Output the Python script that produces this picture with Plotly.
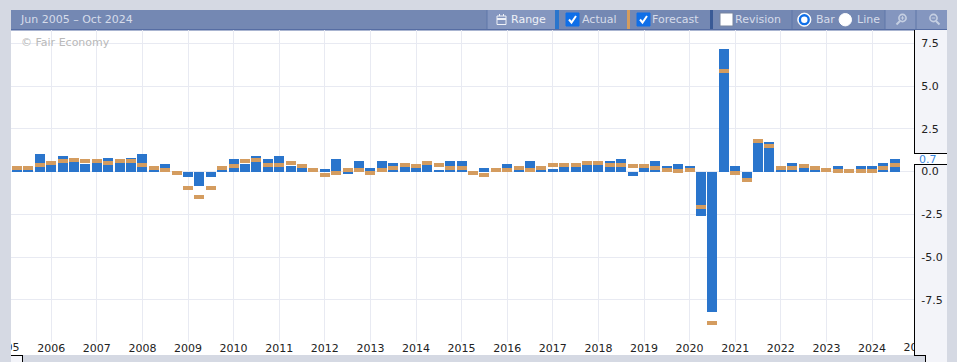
import plotly.graph_objects as go

W, H = 957, 362
quarters = [f"{m} {y}" for y in range(2005, 2025) for m in ("Mar", "Jun", "Sep", "Dec")][1:79]
actual = [0.05, 0.1, 1.05, 0.4, 0.93, 0.6, 0.47, 0.53, 0.8, 0.53, 0.8, 1.05, 0.1, 0.47, 0.0,
          -0.3, -0.82, -0.3, 0.1, 0.76, 0.47, 0.93, 0.76, 0.93, 0.35, 0.23, 0.0, 0.18, 0.76, -0.12,
          0.64, 0.23, 0.64, 0.53, 0.3, 0.23, 0.4, 0.05, 0.64, 0.64, -0.2, 0.23, 0.0, 0.47, 0.12,
          0.64, 0.05, 0.18, 0.3, 0.3, 0.4, 0.4, 0.64, 0.76, -0.23, 0.23, 0.64, 0.35, 0.47, 0.35,
          -2.6, -8.2, 7.2, 0.35, -0.35, 1.7, 1.75, 0.12, 0.53, 0.23, 0.12, 0.0, 0.35, 0.0, 0.35,
          0.35, 0.53, 0.76]
forecast = [0.23, 0.23, 0.4, 0.53, 0.64, 0.7, 0.64, 0.64, 0.53, 0.64, 0.64, 0.4, 0.23, 0.12, -0.06,
            -0.94, -1.46, -0.94, 0.23, 0.35, 0.64, 0.7, 0.4, 0.4, 0.53, 0.35, 0.12, -0.18, -0.06, 0.12,
            0.12, -0.06, 0.12, 0.23, 0.4, 0.35, 0.53, 0.4, 0.23, 0.23, -0.06, -0.18, 0.12, 0.12, 0.23,
            0.12, 0.23, 0.4, 0.4, 0.4, 0.53, 0.53, 0.4, 0.4, 0.35, 0.35, 0.23, 0.12, 0.06, 0.12,
            -2.05, -8.85, 5.9, -0.06, -0.47, 1.8, 1.5, 0.23, 0.23, 0.35, 0.23, 0.12, 0.06, 0.06, 0.06,
            0.06, 0.23, 0.4]
year_ticks = [f"Mar {y}" for y in range(2006, 2025)]
year_labels = [str(y) for y in range(2006, 2025)]
y_ticks = [7.5, 5.0, 2.5, 0.0, -2.5, -5.0, -7.5]
y_labels = ["7.5", "5.0", "2.5", "0.0", "-2.5", "-5.0", "-7.5"]
date_range = "Jun 2005 – Oct 2024"
latest = "0.7"

BLUE, ORANGE = "#2a75cc", "#d49c5f"
FONT = "DejaVu Sans"
forecast_thickness = 0.234


def px(x):
    return x / W


def py(y):
    return 1 - y / H


shapes, notes = [], []


def rect(x0, y0, x1, y1, fill, line=None, lw=1):
    shapes.append(dict(type="rect", xref="paper", yref="paper", x0=px(x0), x1=px(x1), y0=py(y0), y1=py(y1),
                       fillcolor=fill, line=dict(color=line or fill, width=lw if line else 0), layer="below"))


def seg(x0, y0, x1, y1, color="#000000", lw=1, layer="above"):
    shapes.append(dict(type="line", xref="paper", yref="paper", x0=px(x0), x1=px(x1), y0=py(y0), y1=py(y1),
                       line=dict(color=color, width=lw), layer=layer))


def circle(cx, cy, r, fill, line=None, lw=1):
    shapes.append(dict(type="circle", xref="paper", yref="paper", x0=px(cx - r), x1=px(cx + r), y0=py(cy - r),
                       y1=py(cy + r), fillcolor=fill, line=dict(color=line or fill, width=lw), layer="above"))


def text(x, y, s, color, size=11, anchor="left"):
    notes.append(dict(xref="paper", yref="paper", x=px(x), y=py(y), text=s, showarrow=False, xanchor=anchor,
                      yanchor="middle", xshift=0, font=dict(family=FONT, size=size, color=color),
                      borderpad=0, borderwidth=0, align="left"))


# header band and value-axis panel
HEAD, HEAD_L = "#7488b3", "#8496bf"
rect(11, 10, 947, 30, HEAD)
rect(11, 29, 947, 30.5, "#566da3")
rect(487, 10, 555, 29, HEAD_L)
rect(885, 10, 947, 29, HEAD_L)
rect(555, 10, 559, 29, BLUE)
rect(627, 10, 630, 29, ORANGE)
rect(710, 10, 713, 29, "#3a5a96")
for xs in (487, 792, 885, 916):
    seg(xs, 10, xs, 29, "#5f76a8")
rect(914, 30, 947, 362, "#f3f4f9")
rect(914, 355, 925, 362, "#d5d9e3")
rect(914, 153, 947, 164, "#ffffff")
rect(11, 355, 22, 362, "#f3f4f9")
seg(914.5, 30, 914.5, 153)
seg(914.5, 164, 914.5, 355.5)
seg(914, 153.5, 947, 153.5)
seg(914, 164.5, 947, 164.5)
seg(914, 355.5, 925.5, 355.5)
seg(925.5, 355, 925.5, 362)
seg(11, 355.5, 22.5, 355.5)
seg(22.5, 355, 22.5, 362)

# header controls
text(20, 20, date_range, "#d6dcea")
text(511, 20, "Range", "#eef1f7")
text(582, 20, "Actual", "#d6dcea")
text(652, 20, "Forecast", "#d6dcea")
text(735, 20, "Revision", "#d6dcea")
text(816, 20, "Bar", "#d6dcea")
text(857, 20, "Line", "#d6dcea")
for x0 in (566, 637):
    rect(x0, 13, x0 + 13, 26, "#0f6fe8", "#0f6fe8", 1)
    shapes.append(dict(type="path", xref="paper", yref="paper", layer="above",
                       path=f"M {px(x0 + 3)} {py(19.5)} L {px(x0 + 5.5)} {py(22.5)} L {px(x0 + 10)} {py(16)}",
                       line=dict(color="#ffffff", width=2)))
rect(720, 13, 733, 26, "#ffffff", "#76849f", 1)
circle(804.3, 19.7, 6.6, "#ffffff")
circle(804.3, 19.7, 4.4, "#ffffff", "#0f6fe8", 2.4)
circle(845.3, 19.7, 6.2, "#ffffff")
# calendar icon
rect(497, 16, 506, 24.5, HEAD_L, "#eef1f7", 1)
seg(497, 19, 506, 19, "#eef1f7", 2)
seg(499.5, 14, 499.5, 16, "#eef1f7", 1)
seg(503.5, 14, 503.5, 16, "#eef1f7", 1)
# zoom icons
for cx, plus in ((902.5, True), (933.5, False)):
    circle(cx, 18, 3.6, HEAD_L, "#c5cfe2", 1.6)
    seg(cx - 2.5, 21, cx - 6, 24.5, "#c5cfe2", 2) if plus else seg(cx + 2.5, 21, cx + 6, 24.5, "#c5cfe2", 2)
    seg(cx - 1.8, 18, cx + 1.8, 18, "#c5cfe2", 1)
    if plus:
        seg(cx, 16.2, cx, 19.8, "#c5cfe2", 1)

text(21, 43, "© Fair Economy", "#b9b9b9")
text(919, 159, latest, "#3a86e0")

X0, X1 = (11 - 17) / 11.4, (914 - 17) / 11.4
Y_TOP, Y_BOT = (171.6 - 30) / 17.08, (171.6 - 342) / 17.08

fig = go.Figure()
fig.add_bar(x=quarters, y=actual, name="Actual", width=0.877, marker=dict(color=BLUE, line=dict(width=0)),
            hoverinfo="skip")
fig.add_bar(x=quarters, y=[forecast_thickness] * len(quarters), base=[f - forecast_thickness / 2 for f in forecast],
            name="Forecast", width=0.877, marker=dict(color=ORANGE, line=dict(width=0)), hoverinfo="skip")
# clipped year labels at both ends of the time axis
fig.add_scatter(x=[-1, 79], y=[0.5, 0.5], text=["2005", "2025"], mode="text", xaxis="x2", yaxis="y2",
                textfont=dict(family=FONT, size=11, color="#222222"), hoverinfo="skip", cliponaxis=True,
                textposition="middle center")

fig.update_layout(
    width=W, height=H, autosize=False, showlegend=False, barmode="overlay", bargap=0,
    margin=dict(l=0, r=0, t=0, b=0, pad=0),
    paper_bgcolor="#d5d9e3", plot_bgcolor="#ffffff", font=dict(family=FONT, size=11, color="#222222"),
    xaxis=dict(domain=[px(11), px(914)], type="category", categoryorder="array", categoryarray=quarters,
               range=[X0, X1], tickmode="array", tickvals=year_ticks, ticktext=year_labels,
               showgrid=True, gridcolor="#e8eaf2", gridwidth=1, zeroline=False, showline=False, ticks="",
               ticklen=0, tickangle=0, ticklabelstandoff=-2, tickfont=dict(family=FONT, size=11, color="#222222"),
               anchor="y"),
    yaxis=dict(domain=[py(342), py(30)], range=[Y_BOT, Y_TOP], side="right", tickmode="array", tickvals=y_ticks,
               ticktext=y_labels, showgrid=True, gridcolor="#e8eaf2", gridwidth=1, zeroline=False,
               showline=False, ticks="outside", ticklen=4, tickcolor="rgba(0,0,0,0)",
               tickfont=dict(family=FONT, size=11, color="#222222"), anchor="x"),
    xaxis2=dict(domain=[px(11), px(914)], range=[X0, X1], visible=False, anchor="y2"),
    yaxis2=dict(domain=[py(355), py(342)], range=[0, 1], visible=False, anchor="x2"),
    shapes=shapes, annotations=notes,
)
fig.write_html("out.html", config=dict(displayModeBar=False),
               post_script="document.body.style.margin='0';document.body.style.overflow='hidden';")
